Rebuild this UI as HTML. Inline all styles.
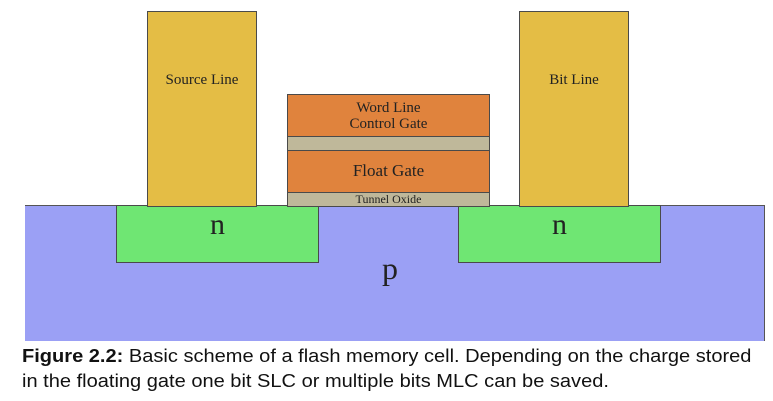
<!DOCTYPE html>
<html><head><style>
body{margin:0;width:773px;height:401px;background:#fff;position:relative;overflow:hidden;font-family:"Liberation Serif",serif}
div{position:absolute;box-sizing:border-box}
.b{border:1.5px solid #4a4a4a}
.t{text-align:center;color:#222}
</style></head><body>
<div style="left:25px;top:205px;width:740px;height:136px;background:#9ba0f5;border-top:1.5px solid #555;border-right:1px solid #555"></div>
<div class="b t" style="left:116px;top:205px;width:203px;height:58px;background:#6fe673;font-size:30px;line-height:38px">n</div>
<div class="b t" style="left:458px;top:205px;width:203px;height:58px;background:#6fe673;font-size:30px;line-height:38px">n</div>
<div class="t" style="left:370px;top:250px;width:40px;font-size:32px">p</div>
<div class="b t" style="left:147px;top:11px;width:110px;height:196px;background:#e4bd45;font-size:15px;padding-top:60px">Source Line</div>
<div class="b t" style="left:519px;top:11px;width:110px;height:196px;background:#e4bd45;font-size:15px;padding-top:60px">Bit Line</div>
<div class="b t" style="left:287px;top:94px;width:203px;height:43px;background:#e0833d;font-size:15px;line-height:16px;padding-top:5px">Word Line<br>Control Gate</div>
<div class="b" style="left:287px;top:136px;width:203px;height:15px;background:#bfb89a"></div>
<div class="b t" style="left:287px;top:150px;width:203px;height:43px;background:#e0833d;font-size:17px;line-height:40px">Float Gate</div>
<div class="b t" style="left:287px;top:192px;width:203px;height:15px;background:#bfb89a;font-size:12px;line-height:12px">Tunnel Oxide</div>
<div style="left:22px;top:343px;width:770px;white-space:nowrap;font-family:'Liberation Sans','NanumGothic',sans-serif;font-size:18.5px;line-height:25px;color:#111;transform:scaleX(1.083);transform-origin:0 0"><b>Figure 2.2:</b> Basic scheme of a flash memory cell. Depending on the charge stored<br>in the floating gate one bit SLC or multiple bits MLC can be saved.</div>
</body></html>
